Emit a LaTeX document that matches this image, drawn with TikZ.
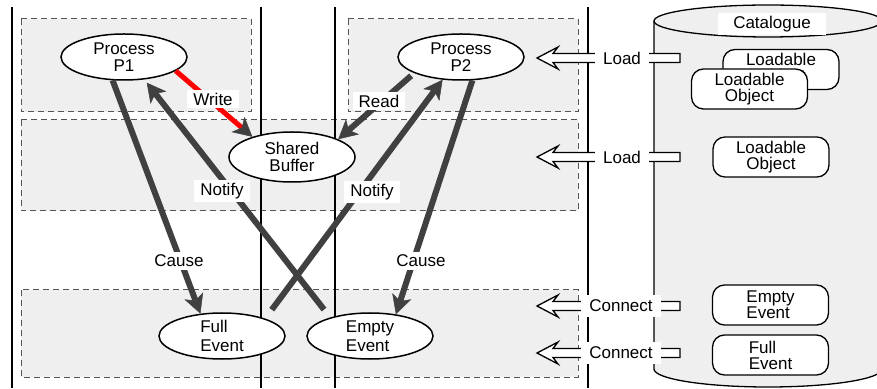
\documentclass[tikz,border=0pt]{standalone}
\usepackage{fontspec}
\setmainfont{Liberation Sans}
\usetikzlibrary{arrows.meta,shapes.geometric}
\definecolor{lanefill}{HTML}{EFEFEF}
\definecolor{dashgray}{HTML}{555555}
\definecolor{flowgray}{HTML}{404040}
\tikzset{
  lane/.style={fill=lanefill, draw=dashgray, line width=1pt, dash pattern=on 6pt off 4pt},
  divider/.style={line width=1.5pt},
  proc/.style={ellipse, draw, line width=1.5pt, fill=white, minimum width=126pt,
    minimum height=46pt, inner sep=0pt, align=center},
  obj/.style={rectangle, rounded corners=12pt, draw, line width=1.3pt, fill=white,
    minimum width=116pt, minimum height=40pt, inner sep=0pt, align=center,
    font=\fontsize{17}{16}\selectfont},
  flow/.style={draw=flowgray, line width=6pt,
    -{Stealth[length=19pt,width=20pt,inset=5pt,line width=0.5pt]}},
  writeflow/.style={draw=red, line width=5pt,
    -{Stealth[length=19pt,width=20pt,inset=5pt,line width=0.5pt,color=flowgray]}},
  tag/.style={fill=white, inner xsep=6pt, inner ysep=3pt},
  ifacelbl/.style={fill=white, inner xsep=8pt, inner ysep=5pt},
  iface/.style={draw, line width=1.3pt, fill=white, line join=miter},
  pics/ifarrow/.style={code={
    \draw[iface] (0,0) -- (21,11) -- (16,4.5) -- (143,4.5) -- (143,-4.5)
      -- (16,-4.5) -- (21,-11) -- cycle;
  }},
}
\begin{document}
\begin{tikzpicture}[x=1pt, y=1pt, font=\fontsize{17}{17.5}\selectfont]
  \useasboundingbox (0,0) rectangle (877,388);

  % shaded lane regions
  \path[lane] (21,369) rectangle (251,276);
  \path[lane] (348,369) rectangle (578,276);
  \path[lane] (21,268) rectangle (578,177);
  \path[lane] (21,98) rectangle (578,11);

  % column dividers
  \foreach \xx in {12,261,335,588}
    \draw[divider] (\xx,381) -- (\xx,0);

  % catalogue cylinder
  \fill[lanefill] (654,367) -- (654,19)
    arc[start angle=180, end angle=360, x radius=114, y radius=18] -- (882,367) -- cycle;
  \draw[line width=1.3pt] (654,367) -- (654,19)
    arc[start angle=180, end angle=360, x radius=114, y radius=18] -- (882,367);
  \draw[line width=1.3pt, fill=lanefill] (768,367) ellipse[x radius=114, y radius=16];
  \node[fill=white, minimum width=108pt, minimum height=22pt, inner sep=0pt]
    (catlbl) at (772,364) {Catalogue};

  % objects held in the catalogue
  \node[obj] (objback) at (781,318.5) {Loadable\\Object};
  \node[obj] (objfront) at (749.5,299) {Loadable\\Object};
  \node[obj] (objbuf) at (771,231) {Loadable\\Object};
  \node[obj, align=left] (objempty) at (770.5,83) {Empty\\Event};
  \node[obj, align=left] (objfull) at (770.5,33) {Full\\Event};

  % interface arrows from the catalogue into the lanes
  \coordinate (load1) at (537,330);
  \coordinate (load2) at (537,231);
  \coordinate (conn1) at (537,82);
  \coordinate (conn2) at (537,35);
  \pic at (load1) {ifarrow};
  \pic at (load2) {ifarrow};
  \pic at (conn1) {ifarrow};
  \pic at (conn2) {ifarrow};
  \node[ifacelbl] (lload1) at (622,330) {Load};
  \node[ifacelbl] (lload2) at (622,231) {Load};
  \node[ifacelbl] (lconn1) at (621,82) {Connect};
  \node[ifacelbl] (lconn2) at (621,35) {Connect};

  % processes, buffer and events
  \node[proc] (p1) at (124,331) {Process\\P1};
  \node[proc] (p2) at (461,331) {Process\\P2};
  \node[proc, minimum height=50pt] (buf) at (292,231) {Shared\\Buffer};
  \node[proc, align=left, font=\fontsize{17}{18.5}\selectfont] (full) at (222,52) {Full\\Event};
  \node[proc, align=left, font=\fontsize{17}{18.5}\selectfont] (empty) at (370,52) {Empty\\Event};

  % flows
  \draw[flow] (p1.244) -- (full.134);
  \draw[flow] (p2.296) -- (empty.40);
  \draw[flow, shorten <=10pt, shorten >=4pt] (empty.155) -- (p1.312);
  \draw[flow, shorten <=11pt] (full.22.6) -- (p2.231);
  \draw[writeflow] (p1.345) -- (buf.153);
  \draw[flow, shorten <=4pt] (p2.199) -- (buf.21);

  % flow labels
  \node[tag] (lwrite) at (213,289) {Write};
  \node[tag] (lread) at (379,287) {Read};
  \node[tag] (lnotify1) at (222,197) {Notify};
  \node[tag] (lnotify2) at (372,196) {Notify};
  \node[tag] (lcause1) at (179,127) {Cause};
  \node[tag] (lcause2) at (421,127) {Cause};
\end{tikzpicture}
\end{document}
